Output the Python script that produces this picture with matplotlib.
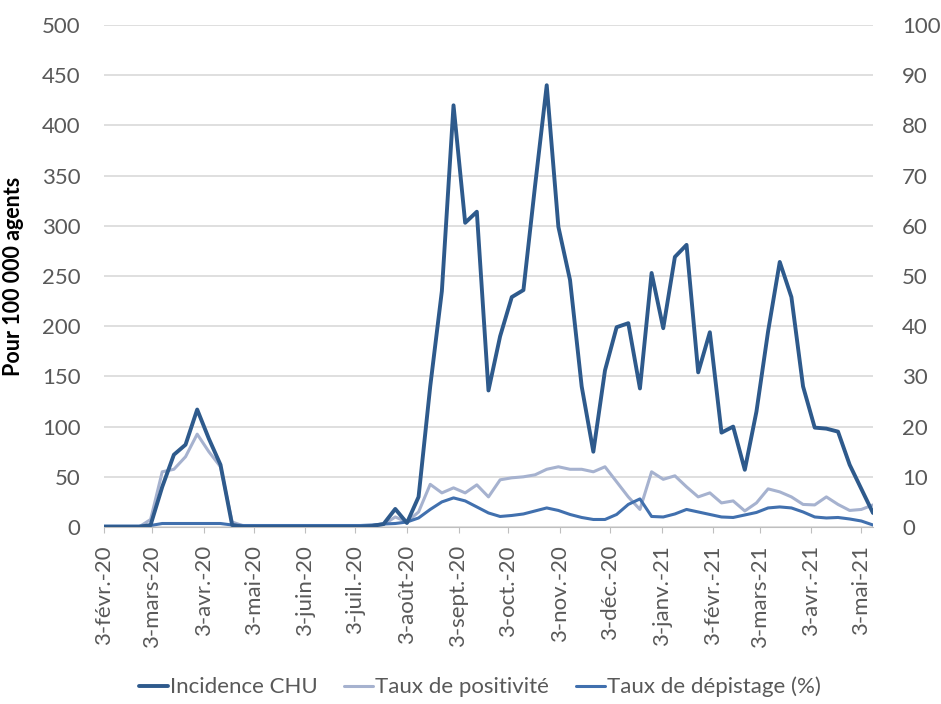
import matplotlib
matplotlib.use('Agg')
import matplotlib.pyplot as plt
import matplotlib.dates as mdates
from matplotlib.ticker import FuncFormatter, MultipleLocator
import pandas as pd

plt.rcParams['font.family'] = ['Lato', 'DejaVu Sans']

# weekly points, Monday 3 Feb 2020 -> 10 May 2021
weeks = pd.date_range("2020-02-03", periods=67, freq="7D")

incidence = [0, 0, 0, 0, 2, 40, 72, 82, 117, 88, 62, 2,
             0, 0, 0, 0, 0, 0, 0, 0, 0, 0, 0, 1,
             3, 18, 4, 30, 140, 235, 420, 303, 314, 136, 190, 229,
             236, 340, 440, 299, 246, 140, 75, 156, 199, 203, 138, 253,
             198, 269, 281, 154, 194, 94, 100, 57, 115, 195, 264, 229,
             140, 99, 98, 95, 62, 38, 14]

positivite = [0, 0, 0, 0, 1.5, 11, 11.5, 14, 18.5, 15, 12, 1,
              0.2, 0.2, 0.2, 0.2, 0.2, 0.2, 0.2, 0.2, 0.2, 0.2, 0.2, 0.2,
              0.5, 2, 1, 3, 8.5, 6.8, 7.8, 6.8, 8.4, 6, 9.4, 9.8,
              10, 10.4, 11.5, 12, 11.5, 11.5, 11, 12, 9, 6, 3.5, 11,
              9.5, 10.2, 8, 6, 6.8, 4.8, 5.2, 3.2, 4.8, 7.6, 7, 6,
              4.5, 4.4, 6, 4.5, 3.3, 3.5, 4.4]

depistage = [0.2, 0.2, 0.2, 0.2, 0.3, 0.7, 0.7, 0.7, 0.7, 0.7, 0.7, 0.4,
             0.3, 0.3, 0.3, 0.3, 0.3, 0.3, 0.3, 0.3, 0.3, 0.3, 0.3, 0.4,
             0.6, 0.7, 1, 1.8, 3.5, 5, 5.8, 5.2, 4, 2.8, 2.1, 2.3,
             2.6, 3.2, 3.8, 3.3, 2.5, 1.9, 1.5, 1.5, 2.5, 4.5, 5.6, 2.1,
             2, 2.6, 3.5, 3, 2.5, 2, 1.9, 2.4, 2.9, 3.8, 4, 3.8,
             3, 2, 1.8, 1.9, 1.6, 1.2, 0.4]

mois = ["janv.", "févr.", "mars", "avr.", "mai", "juin", "juil.",
        "août", "sept.", "oct.", "nov.", "déc."]

C_INC = "#2e5a8c"
C_POS = "#a6b2cf"
C_DEP = "#4170ae"
GREY = "#595959"
FS = 16

fig = plt.figure(figsize=(9.41, 7.04), dpi=100)
ax = fig.add_axes([0.1105, 0.2514, 0.8172, 0.7131])
ax2 = ax.twinx()

kw = dict(solid_joinstyle="round", solid_capstyle="round")
ax.plot(weeks, incidence, color=C_INC, lw=2.8, zorder=5, label="Incidence CHU", **kw)
ax2.plot(weeks, positivite, color=C_POS, lw=2.2, label="Taux de positivité", **kw)
ax2.plot(weeks, depistage, color=C_DEP, lw=2.2, label="Taux de dépistage (%)", **kw)
ax.set_zorder(ax2.get_zorder() + 1); ax.patch.set_visible(False)

ax.set_ylim(0, 500); ax2.set_ylim(0, 100)
ax.yaxis.set_major_locator(MultipleLocator(50))
ax2.yaxis.set_major_locator(MultipleLocator(10))
ax.set_xlim(weeks[0], weeks[-1])
ax2.grid(axis="y", color="#d9d9d9", lw=1.2)
ax2.set_axisbelow(True)

ax.xaxis.set_major_locator(mdates.MonthLocator(bymonthday=3))
ax.xaxis.set_major_formatter(FuncFormatter(
    lambda v, p: (lambda d: f"{d.day}-{mois[d.month-1]}-{d.strftime('%y')}")(mdates.num2date(v))))
for lab in ax.get_xticklabels():
    lab.set_rotation(90)

for a in (ax, ax2):
    for s in a.spines.values():
        s.set_visible(False)
ax.spines["bottom"].set_visible(True)
ax.spines["bottom"].set_color("#bfbfbf")

ax.tick_params(axis="x", colors="#bfbfbf", labelcolor=GREY, labelsize=FS, length=4, pad=9)
ax.tick_params(axis="y", length=0, labelcolor=GREY, labelsize=FS, pad=17)
ax2.tick_params(axis="y", length=0, labelcolor=GREY, labelsize=FS, pad=21)

ax.set_ylabel("Pour 100 000 agents", fontsize=15.5, fontweight="bold", color="black")
ax.yaxis.set_label_coords(-0.104, 0.5)

h1, l1 = ax.get_legend_handles_labels()
h2, l2 = ax2.get_legend_handles_labels()
fig.legend(h1 + h2, l1 + l2, loc="center", bbox_to_anchor=(0.51, 0.024), ncol=3,
           frameon=False, fontsize=FS, handlelength=1.3, handletextpad=0.1,
           columnspacing=1.2, labelcolor=GREY, borderaxespad=0)

fig.savefig("out.png", dpi=100)
